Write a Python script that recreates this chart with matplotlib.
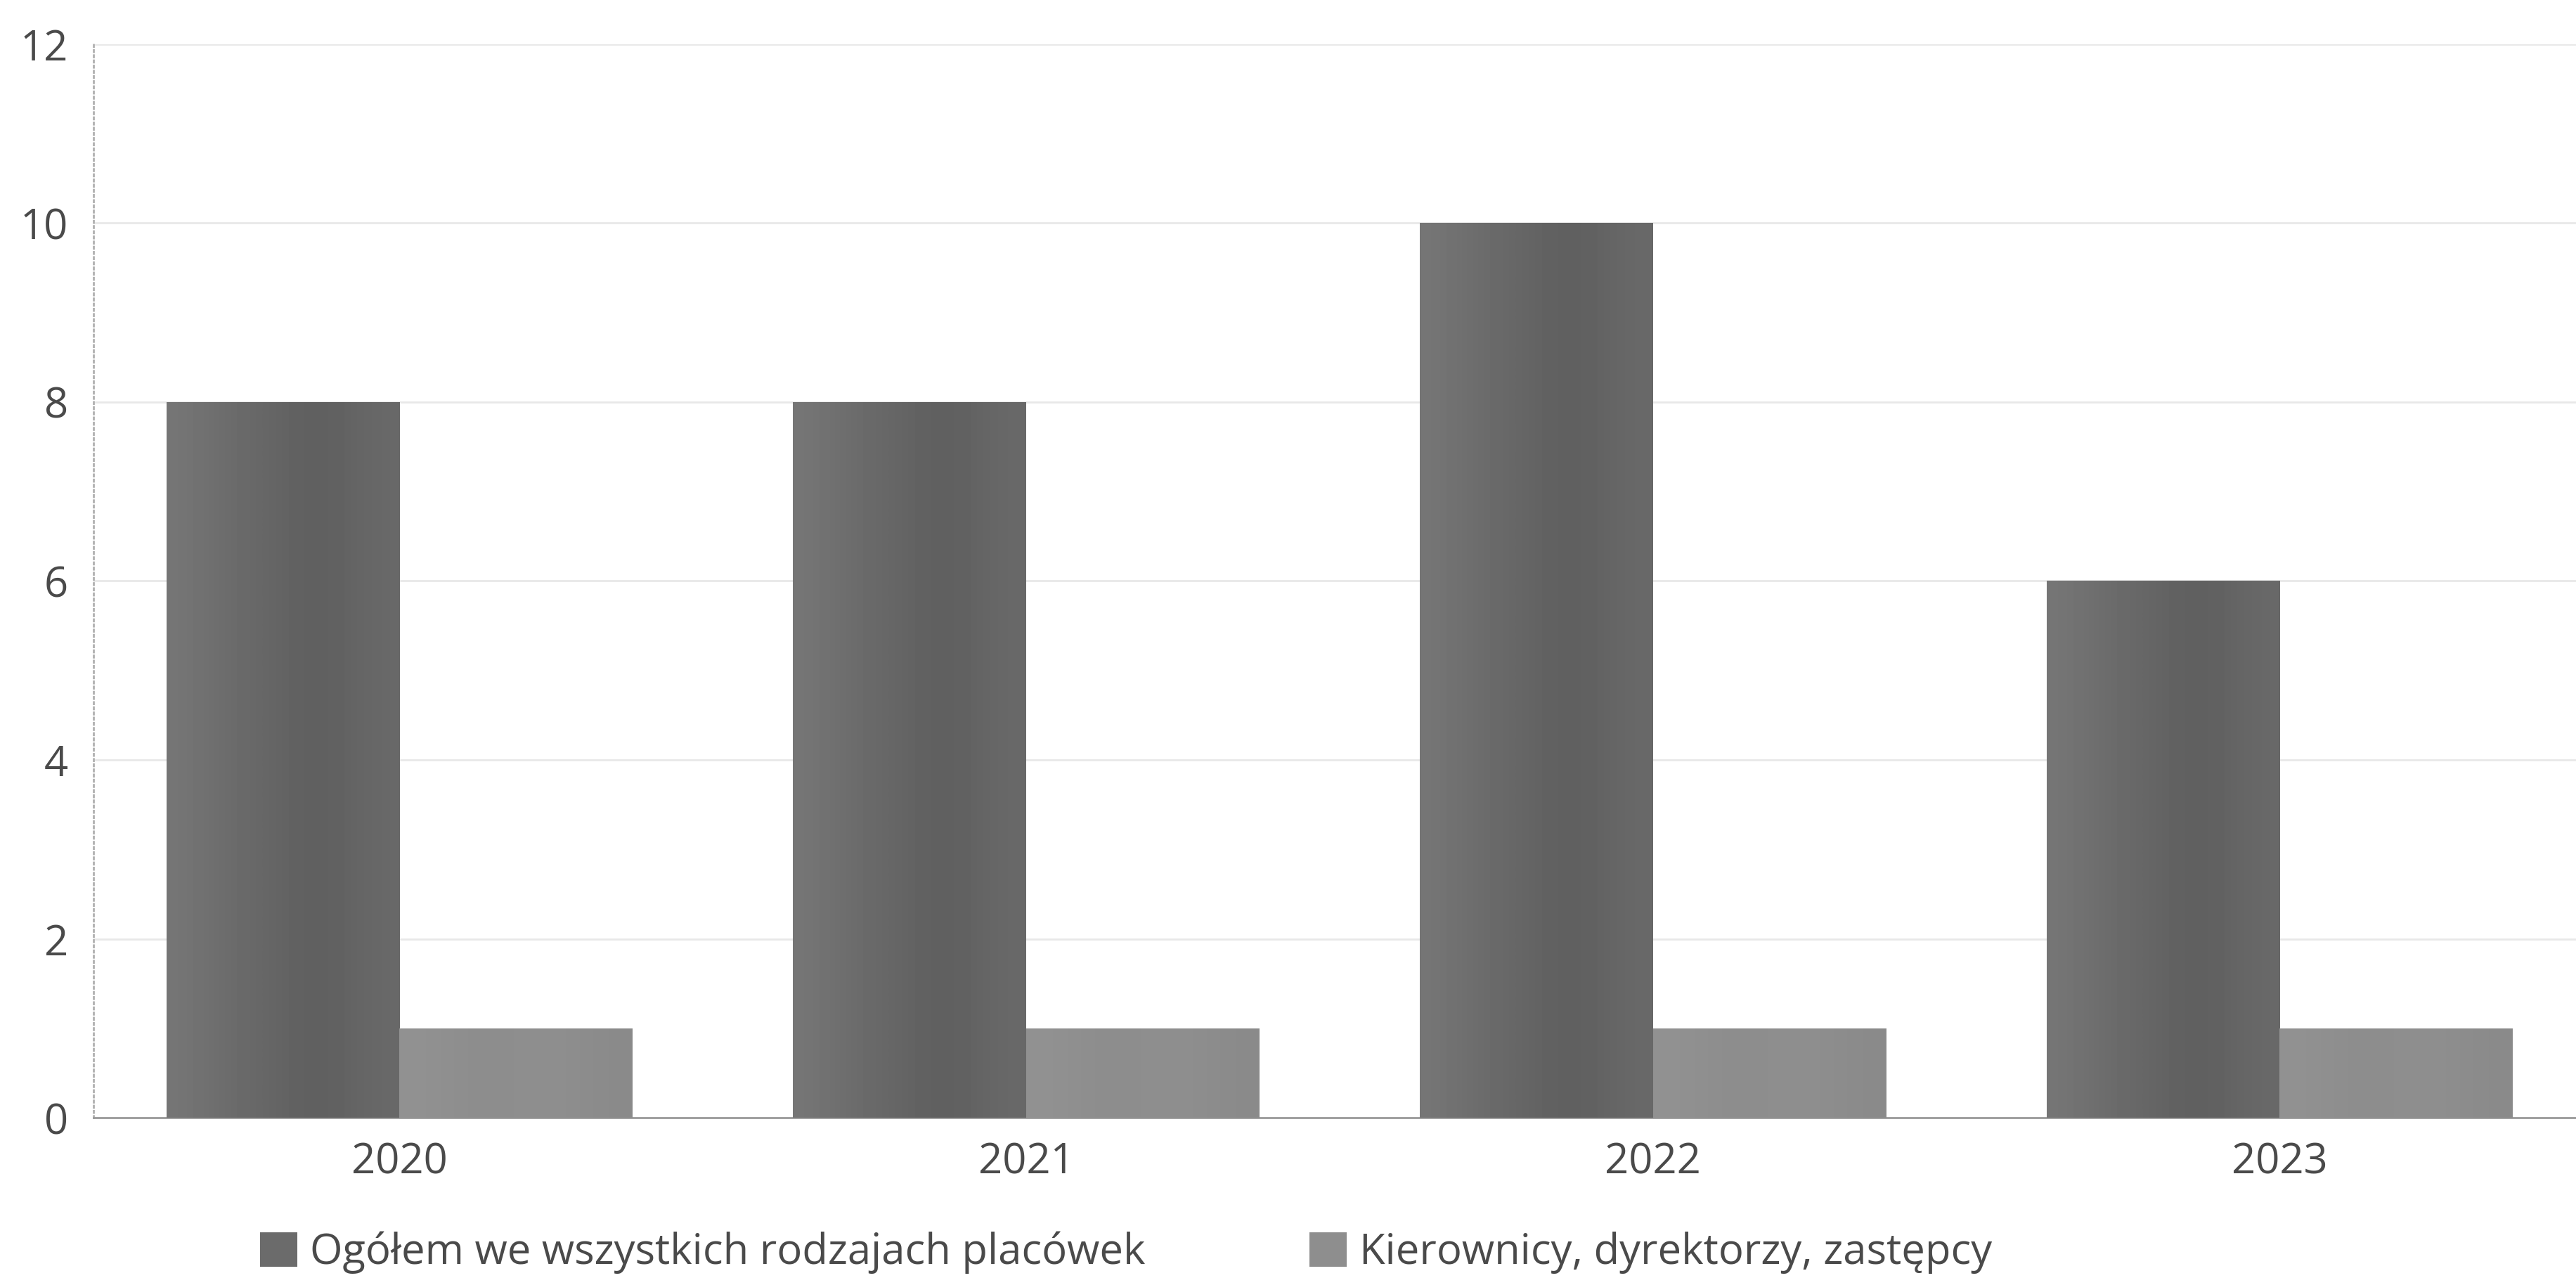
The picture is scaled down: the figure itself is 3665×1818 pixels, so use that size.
import matplotlib
matplotlib.use("Agg")
import matplotlib.pyplot as plt
import numpy as np

years = ["2020", "2021", "2022", "2023"]
ogolem = [8, 8, 10, 6]          # Ogółem we wszystkich rodzajach placówek
kierownicy = [1, 1, 1, 1]       # Kierownicy, dyrektorzy, zastępcy
labels = ["Ogółem we wszystkich rodzajach placówek", "Kierownicy, dyrektorzy, zastępcy"]

plt.rcParams['font.family'] = ['Open Sans', 'DejaVu Sans']

fig = plt.figure(figsize=(36.66, 18.18), dpi=100)
ax = fig.add_axes([0.0363, 0.1254, 0.9637, 0.84])

x = np.arange(len(years))
w = 0.372

dark = "#6b6b6b"
light = "#8e8e8e"

b1 = ax.bar(x - w/2, ogolem, w, color=dark, zorder=3, label=labels[0])
b2 = ax.bar(x + w/2, kierownicy, w, color=light, zorder=3, label=labels[1])

# soft horizontal shading like the scanned bars
def shade(bars, vals):
    grad = np.array(vals)[None, :]
    for b in bars:
        x0, y0 = b.get_x(), b.get_y()
        im = ax.imshow(grad, cmap="gray", vmin=0, vmax=1, aspect="auto",
                       extent=[x0, x0 + b.get_width(), y0, y0 + b.get_height()],
                       zorder=4, interpolation="bicubic")
        im.set_clip_path(b)

shade(b1, [0.46, 0.43, 0.41, 0.39, 0.37, 0.39, 0.41])
shade(b2, [0.57, 0.56, 0.55, 0.555, 0.56, 0.55, 0.54])

ax.set_xlim(-0.488, 3.474)
ax.set_ylim(0, 12)
ax.set_yticks([0, 2, 4, 6, 8, 10, 12])
ax.set_xticks(x)
ax.set_xticklabels(years)

ax.grid(axis="y", color="#e8e8e8", linewidth=2, zorder=0)
ax.tick_params(axis="both", length=0, labelsize=43, labelcolor="#4a4a4a")
ax.tick_params(axis="y", pad=26)
ax.tick_params(axis="x", pad=24)

for s in ["top", "right"]:
    ax.spines[s].set_visible(False)
ax.spines["left"].set_color("#b0b0b0")
ax.spines["left"].set_linestyle(":")
ax.spines["left"].set_linewidth(2)
ax.spines["bottom"].set_color("#9a9a9a")
ax.spines["bottom"].set_linewidth(2)

fig.legend(handles=[b1, b2], labels=labels, loc="center", ncol=2,
           bbox_to_anchor=(0.437, 0.02), frameon=False, fontsize=43,
           handlelength=0.9, handleheight=0.9, handletextpad=0.3,
           columnspacing=3.9, labelcolor="#4a4a4a")

fig.savefig("out.png", dpi=100)
